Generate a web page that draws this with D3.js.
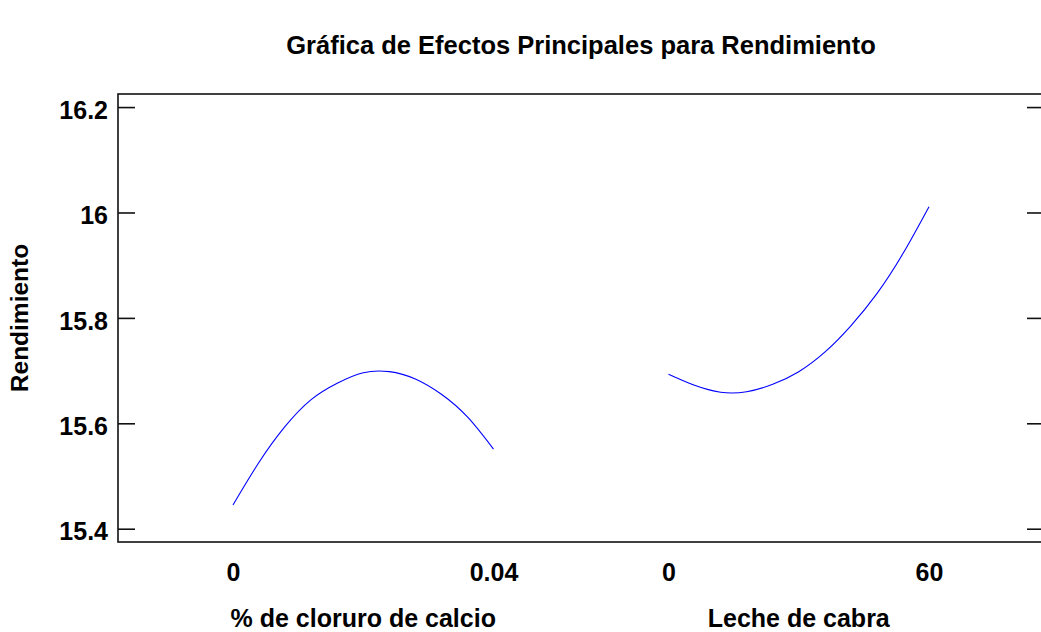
<!DOCTYPE html>
<html>
<head>
<meta charset="utf-8">
<script src="https://cdn.jsdelivr.net/npm/d3@7"></script>
<style>
  html, body { margin: 0; padding: 0; background: #fff; }
  svg { display: block; }
  text { font-family: "Liberation Sans", Arial, sans-serif; font-weight: bold; fill: #000; }
</style>
</head>
<body>
<svg id="chart" width="1041" height="632"></svg>
<script>
// Main effects for Rendimiento: predicted response across each factor's range
const chartTitle = "Gráfica de Efectos Principales para Rendimiento";
const yLabel = "Rendimiento";

const factorNames = ["% de cloruro de calcio", "Leche de cabra"];
const factorLow = [0, 0];
const factorHigh = [0.04, 60];
const factorTickLabels = [["0", "0.04"], ["0", "60"]];

// factor 1: % de cloruro de calcio
const calcioLevels = [0, 0.004, 0.008, 0.012, 0.016, 0.02, 0.024, 0.028, 0.032, 0.036, 0.04];
const calcioEffect = [15.445, 15.526, 15.594, 15.645, 15.676, 15.696, 15.698, 15.684, 15.655, 15.612, 15.551];

// factor 2: Leche de cabra
const lecheLevels = [0, 6, 12, 18, 24, 30, 36, 42, 48, 54, 60];
const lecheEffect = [15.693, 15.672, 15.659, 15.660, 15.674, 15.698, 15.735, 15.785, 15.846, 15.922, 16.011];

const yTicks = [15.4, 15.6, 15.8, 16.0, 16.2];
const yTickLabels = ["15.4", "15.6", "15.8", "16", "16.2"];

const svg = d3.select("#chart");

const frame = { left: 118, top: 94, right: 1044, bottom: 542 };
const tickLen = 17;
const fontSize = "25px";

// y scale spans a little past the outer ticks
const y = d3.scaleLinear().domain([15.3748, 16.2248]).range([frame.bottom, frame.top]);

// each factor gets its own segment along the horizontal axis
const panelInset = 115;
const panelGap = 175;
const panelWidth = (frame.right - frame.left - 2 * panelInset - panelGap) / 2;
const xScales = factorLow.map((lo, i) => {
  const x0 = frame.left + panelInset + i * (panelWidth + panelGap);
  return d3.scaleLinear().domain([lo, factorHigh[i]]).range([x0, x0 + panelWidth]);
});

// title
svg.append("text")
  .attr("x", (frame.left + frame.right) / 2)
  .attr("y", 54)
  .attr("text-anchor", "middle")
  .style("font-size", "25.5px")
  .text(chartTitle);

// frame (right edge sits just past the visible area)
svg.append("rect")
  .attr("x", frame.left).attr("y", frame.top)
  .attr("width", frame.right - frame.left).attr("height", frame.bottom - frame.top)
  .attr("fill", "none").attr("stroke", "#111").attr("stroke-width", 1.6);

// left axis with inward ticks
const leftAxis = d3.axisLeft(y)
  .tickValues(yTicks)
  .tickFormat((d, i) => yTickLabels[i])
  .tickSizeInner(-tickLen).tickSizeOuter(0).tickPadding(10);
const gl = svg.append("g").attr("transform", `translate(${frame.left},0)`).call(leftAxis);
gl.select(".domain").remove();
gl.selectAll(".tick line").attr("stroke", "#111").attr("stroke-width", 1.6);
gl.selectAll(".tick text").style("font-size", fontSize).attr("dy", "0.45em")
  .attr("fill", "#000").style("font-family", "'Liberation Sans', Arial, sans-serif");

// right axis, ticks only
const rightAxis = d3.axisRight(y).tickValues(yTicks).tickFormat("")
  .tickSizeInner(-tickLen).tickSizeOuter(0);
const gr = svg.append("g").attr("transform", `translate(${frame.right},0)`).call(rightAxis);
gr.select(".domain").remove();
gr.selectAll(".tick line").attr("stroke", "#111").attr("stroke-width", 1.6);

// factor tick labels and names
xScales.forEach((xs, i) => {
  const ax = d3.axisBottom(xs).tickValues([factorLow[i], factorHigh[i]])
    .tickFormat((d, j) => factorTickLabels[i][j]).tickSize(0).tickPadding(21);
  const g = svg.append("g").attr("transform", `translate(0,${frame.bottom})`).call(ax);
  g.select(".domain").remove();
  g.selectAll(".tick text").style("font-size", fontSize).attr("fill", "#000")
    .style("font-family", "'Liberation Sans', Arial, sans-serif");
  svg.append("text")
    .attr("x", (xs.range()[0] + xs.range()[1]) / 2)
    .attr("y", 627)
    .attr("text-anchor", "middle")
    .style("font-size", fontSize)
    .text(factorNames[i]);
});

// y axis title
svg.append("text")
  .attr("transform", `translate(28,${(frame.top + frame.bottom) / 2}) rotate(-90)`)
  .attr("text-anchor", "middle")
  .style("font-size", "24.5px")
  .text(yLabel);

// effect curves
const series = [
  { levels: calcioLevels, effect: calcioEffect },
  { levels: lecheLevels, effect: lecheEffect }
];
series.forEach((s, i) => {
  const line = d3.line()
    .x((d, j) => xScales[i](s.levels[j]))
    .y(d => y(d))
    .curve(d3.curveNatural);
  svg.append("path")
    .datum(s.effect)
    .attr("d", line)
    .attr("fill", "none")
    .attr("stroke", "#0000ff")
    .attr("stroke-width", 1.1);
});
</script>
</body>
</html>
